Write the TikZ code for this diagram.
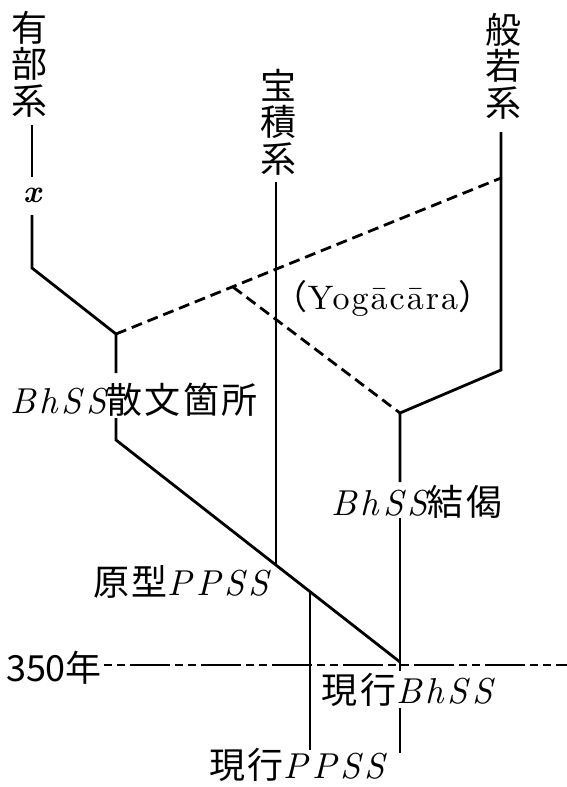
\documentclass[tikz,border=0pt]{standalone}
\usepackage{fontspec}
\newfontfamily\cjk{Noto Sans CJK JP}
\newfontfamily\cjks{Noto Sans CJK JP}[LetterSpace=7]
\newfontfamily\lsit{lmroman10-italic}[Extension=.otf, LetterSpace=11]
\newfontfamily\xit{lmroman10-bolditalic}[Extension=.otf]
\newfontfamily\lsrm{lmroman10-regular}[Extension=.otf, LetterSpace=6]
\newcommand\bhss{{\fontsize{36}{40}\selectfont\lsit BhSS}}
\newcommand\ppss{{\fontsize{36}{40}\selectfont\lsit PPSS}}
\begin{document}
\begin{tikzpicture}[x=1pt,y=-1pt,
  lab/.style={inner sep=0pt, font=\fontsize{36}{40}\selectfont},
  vlab/.style={inner sep=0pt, align=center, font={\fontsize{36}{36.5}\selectfont\cjk}},
  ln/.style={line width=2.8pt},
  dsh/.style={line width=2.8pt, dash pattern=on 11pt off 6pt},
  yr/.style={line width=2.4pt, dash pattern=on 8pt off 5pt on 8pt off 5pt on 40pt off 5pt}]
\useasboundingbox (0,0) rectangle (567,787);
% labels
\node[vlab] (ubu) at (30,64) {有\\部\\系};
\node[vlab] (hos) at (278,122) {宝\\積\\系};
\node[vlab] (han) at (503,66) {般\\若\\系};
\node[lab, font=\fontsize{32}{36}\selectfont] (xlab) at (32,195) {\xit x};
\node[lab] (bhsan) at (134,400) {\bhss\cjks 散文箇所};
\node[lab] (bhket) at (417,502) {\bhss\cjks 結偈};
\node[lab] (genkei) at (181,582) {\cjks 原型\ppss};
\node[lab] (genbh) at (407,690) {\cjks 現行\bhss};
\node[lab] (genpp) at (297,765) {\cjks 現行\ppss};
\node[lab] (nen) at (54,668) {\cjk 350年};
\node[lab, font=\fontsize{34}{40}\selectfont] (yoga) at (383,298) {{\cjk （}{\lsrm Yogācāra}{\cjk ）}};
% coordinates
\coordinate (A1) at (32,125);
\coordinate (A2) at (32,177);
\coordinate (A3) at (32,215);
\coordinate (A4) at (32,268);
\coordinate (J1) at (116,334);
\coordinate (J1b) at (116,373);
\coordinate (J1c) at (116,418);
\coordinate (J1d) at (116,440);
\coordinate (P) at (400,662);
\coordinate (Pe) at (400,671);
\coordinate (Pf) at (400,708);
\coordinate (Pg) at (400,753);
\coordinate (B1) at (276,182);
\coordinate (B2) at (276,565);
\coordinate (C1) at (501,132);
\coordinate (C2) at (501,370);
\coordinate (C3) at (501,178);
\coordinate (J2) at (400,413);
\coordinate (J2b) at (400,482);
\coordinate (J2c) at (400,518);
\coordinate (D) at (233,287);
\coordinate (Q) at (310,591.6);
\coordinate (Qe) at (310,750);
\coordinate (Y1) at (104,665);
\coordinate (Y2) at (567,665);
% solid lines
\draw[ln] (A1) -- (A2);
\draw[ln] (A3) -- (A4) -- (J1) -- (J1b);
\draw[ln] (J1c) -- (J1d) -- (P);
\draw[ln] (B1) -- (B2);
\draw[ln] (C1) -- (C2) -- (J2) -- (J2b);
\draw[ln] (J2c) -- (P) -- (Pe);
\draw[ln] (Pf) -- (Pg);
\draw[ln] (Q) -- (Qe);
% dashed lines
\draw[dsh] (J1) -- (C3);
\draw[dsh] (D) -- (J2);
\draw[yr] (Y1) -- (Y2);
\end{tikzpicture}
\end{document}
